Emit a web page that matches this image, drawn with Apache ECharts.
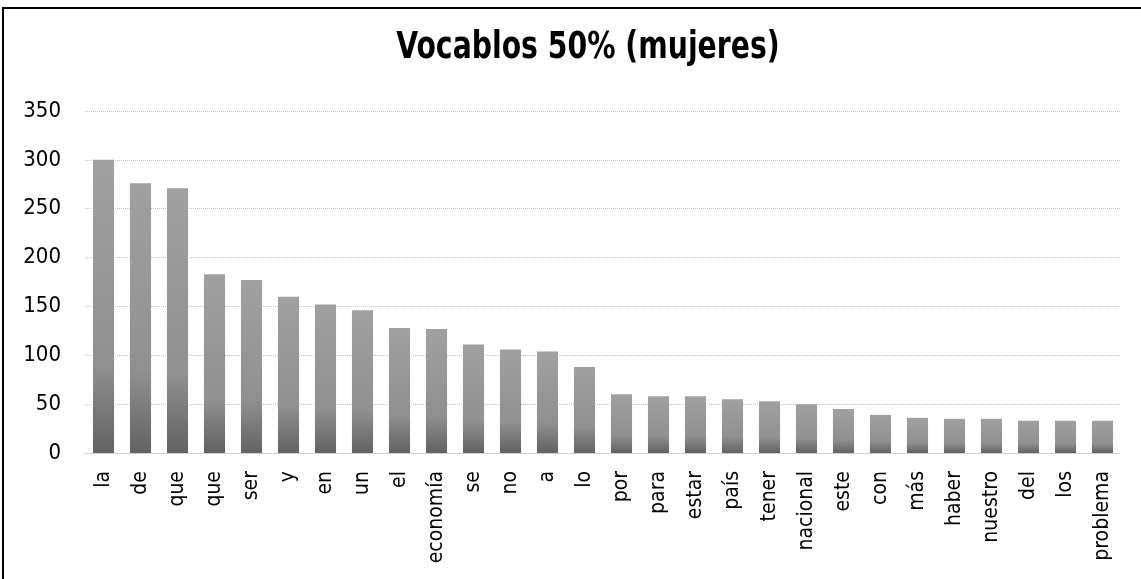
<!DOCTYPE html>
<html>
<head>
<meta charset="utf-8">
<script src="https://cdn.jsdelivr.net/npm/echarts@6/dist/echarts.min.js"></script>
<style>
  html, body { margin: 0; padding: 0; background: #fff; }
</style>
</head>
<body>
<div id="main" style="width: 1141px; height: 579px"></div>
<script>
// palabras y frecuencias
var words = ["la", "de", "que", "que", "ser", "y", "en", "un", "el", "economía",
  "se", "no", "a", "lo", "por", "para", "estar", "país", "tener", "nacional",
  "este", "con", "más", "haber", "nuestro", "del", "los", "problema"];
var counts = [300, 276, 271, 183, 177, 160, 152, 146, 128, 127,
  111, 106, 104, 88, 60, 58, 58, 55, 53, 50,
  45, 39, 36, 35, 35, 33, 33, 33];
var yTicks = [0, 50, 100, 150, 200, 250, 300, 350];
var titleText = "Vocablos 50% (mujeres)";

var font = "'DejaVu Sans Condensed', 'Liberation Sans', sans-serif";

var chart = echarts.init(document.getElementById("main"));
chart.setOption({
  animation: false,
  graphic: [
    {
      type: "rect",
      shape: { x: 3, y: 8, width: 1160, height: 600 },
      style: { fill: "none", stroke: "#000", lineWidth: 2 }
    },
    {
      // titulo un poco estrecho, como Arial Narrow
      type: "text",
      x: 588,
      y: 30,
      scaleX: 0.85,
      style: {
        text: titleText,
        fontFamily: font,
        fontSize: 37,
        fontWeight: "bold",
        fill: "#000",
        textAlign: "center",
        textVerticalAlign: "top"
      }
    }
  ],
  grid: { left: 85, right: 20, top: 111, bottom: 126 },
  xAxis: {
    type: "category",
    data: words,
    axisLine: { lineStyle: { color: "#c4c4c4", type: "dotted" } },
    axisTick: { show: false },
    axisLabel: {
      rotate: 90,
      interval: 0,
      margin: 18,
      color: "#000",
      fontFamily: font,
      fontSize: 21
    }
  },
  yAxis: {
    type: "value",
    min: yTicks[0],
    max: yTicks[yTicks.length - 1],
    interval: 50,
    axisLine: { show: false },
    axisTick: { show: false },
    axisLabel: { color: "#000", fontFamily: font, fontSize: 22, margin: 24 },
    splitLine: { lineStyle: { color: "#c4c4c4", type: "dotted", width: 1 } }
  },
  series: [
    {
      type: "bar",
      data: counts,
      barCategoryGap: "43%",
      itemStyle: {
        color: new echarts.graphic.LinearGradient(0, 0, 0, 1, [
          { offset: 0, color: "#a0a0a0" },
          { offset: 0.7, color: "#909090" },
          { offset: 1, color: "#626262" }
        ])
      }
    }
  ]
});
</script>
</body>
</html>
